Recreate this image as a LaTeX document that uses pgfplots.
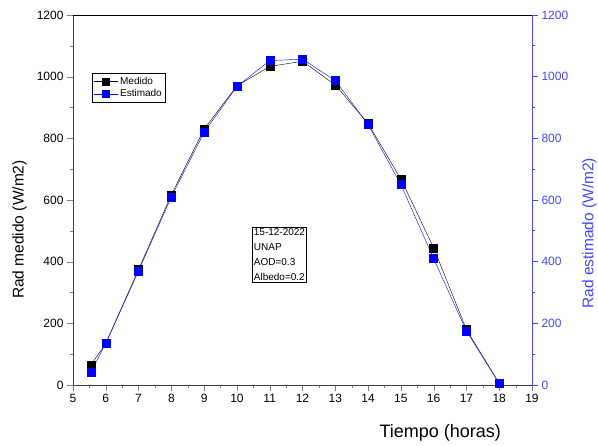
\documentclass[border=0pt]{standalone}
\usepackage{pgfplots}
\pgfplotsset{compat=1.18}
\usepackage{fontspec}
\setmainfont{Liberation Sans}
\definecolor{estblue}{RGB}{0,0,255}
\definecolor{axblue}{RGB}{70,70,255}

\begin{document}
\begin{tikzpicture}
\pgfplotsset{
  common/.style={
    scale only axis, width=459pt, height=370pt,
    xmin=5, xmax=19, ymin=0, ymax=1200,
    tick align=outside,
    major tick length=6pt, minor tick length=3pt,
    /pgf/number format/assume math mode=true,
    /pgf/number format/1000 sep={},
    ticklabel style={font=\fontsize{12}{14}\selectfont},
    label style={font=\fontsize{15.5}{17}\selectfont},
  }
}
\begin{axis}[common, name=main,
  axis y line*=left, axis x line*=bottom,
  axis line style={black!75, line width=0.8pt},
  xtick={5,...,19}, minor x tick num=1,
  ytick={0,200,...,1200}, minor y tick num=1,
  ylabel={Rad medido (W/m2)},
  ylabel style={at={(axis description cs:0,0.42)}, anchor=south, inner sep=0pt, yshift=46pt},
  xlabel={Tiempo (horas)},
  xlabel style={at={(axis description cs:0.8,0)}, anchor=north,
    font=\fontsize{18}{20}\selectfont, yshift=-36pt},
  legend style={at={(axis description cs:0.041,0.843)}, anchor=north west,
    font=\fontsize{10}{12}\selectfont, draw=black, line width=0.8pt,
    inner sep=1.5pt, row sep=0pt, cells={anchor=west}},
  legend cell align=left,
  legend image code/.code={
    \draw[mark repeat=2, mark phase=2, mark size=3.5pt, #1]
      plot coordinates {(0pt,0pt) (12pt,0pt) (24pt,0pt)};
  },
]
\addplot[black, thin, mark=square*, mark size=4pt, mark options={solid}] coordinates {
  (5.55,65) (6,135) (7,375) (8,617) (9,830) (10,970) (11,1033)
  (12,1050) (13,973) (14,848) (15,668) (16,445) (17,180) (18,5)
};
\addlegendentry{Medido}
\addplot[estblue, thin, mark=square*, mark size=4pt, mark options={solid}] coordinates {
  (5.55,43) (6,135) (7,370) (8,610) (9,820) (10,968) (11,1052)
  (12,1057) (13,987) (14,845) (15,650) (16,410) (17,175) (18,5)
};
\addlegendentry{Estimado}
\node[draw=black, line width=0.8pt, anchor=north west, align=left,
  font=\fontsize{10}{15}\selectfont, inner sep=1.5pt]
  at (axis description cs:0.39,0.427)
  {15-12-2022\\UNAP\\AOD=0.3\\Albedo=0.2};
\end{axis}
\begin{axis}[common,
  axis y line*=right, axis x line*=top,
  x axis line style={black, line width=0.8pt},
  y axis line style={axblue, line width=0.8pt},
  xtick=\empty,
  ytick={0,200,...,1200}, minor y tick num=1,
  y tick style={axblue, line width=0.8pt},
  yticklabel style={axblue},
  ylabel={Rad estimado (W/m2)},
  ylabel style={axblue, at={(axis description cs:1,0.41)}, anchor=north, inner sep=0pt, yshift=-50pt},
]
\end{axis}
\pgfresetboundingbox
\path[use as bounding box] (main.south west) ++(-73pt,-61pt) rectangle ++(598pt,446pt);
\end{tikzpicture}
\end{document}
